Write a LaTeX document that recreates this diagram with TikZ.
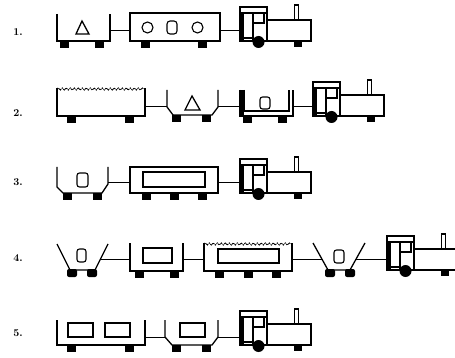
\documentclass[tikz,border=0pt]{standalone}
\usetikzlibrary{decorations.pathmorphing}
\tikzset{
  ln/.style={line width=1.3pt, line join=miter},
  thin ln/.style={line width=1.1pt},
  coupler/.style={line width=1pt},
  wave/.style={line width=0.9pt, decorate, decoration={snake, amplitude=1.1pt, segment length=4pt}, dash pattern=on 1.5pt off 0.8pt},
  lbl/.style={font=\bfseries\fontsize{10.5}{10.5}\selectfont, inner sep=0pt},
  engine/.pic={
    \draw[ln] (0,0) rectangle (27,-34);
    \draw[ln] (0,-28) -- (27,-28);
    \fill (0,0) rectangle (4,-28);
    \draw[thin ln] (13,0) -- (13,-28);
    \draw[thin ln] (13,-18) -- (24,-18) -- (24,-28);
    \draw[thin ln] (4,-3) -- (13,-3);
    \draw[ln] (27,0) rectangle (71,-21);
    \draw[thin ln] (54.5,-21) rectangle (58.5,-36);
    \fill (18.5,1) circle (6);
    \fill (54,0) rectangle (62,6);
  }
}
\newcommand\trainwheel[2]{\fill (#1,#2) rectangle ++(9,7);}
\newcommand\roundwheel[2]{\fill[rounded corners=2pt] (#1,#2) rectangle ++(10,8);}
\begin{document}
\begin{tikzpicture}[x=1pt,y=-1pt]
\useasboundingbox (0,0) rectangle (455,358);
\fill[white] (0,0) rectangle (455,358);

% labels
\node[lbl] (l1) at (18,32) {1.};
\node[lbl] (l2) at (18,113) {2.};
\node[lbl] (l3) at (18,182) {3.};
\node[lbl] (l4) at (18,258) {4.};
\node[lbl] (l5) at (18,333) {5.};

% ---------- Row 1 ----------
\draw[ln] (57,14) -- (57,41) -- (110,41) -- (110,14);
\draw[ln] (82,21) -- (76,34) -- (89,34) -- cycle;
\trainwheel{60}{41}\trainwheel{95}{41}
\coordinate (r1a) at (110,31); \coordinate (r1b) at (130,31);
\draw[coupler] (r1a) -- (r1b);
\draw[ln] (130,13) rectangle (220,41);
\draw[thin ln] (147.5,27.5) circle (5.5);
\draw[thin ln, rounded corners=3pt] (167,21) rectangle (177,34);
\draw[thin ln] (197.5,27.5) circle (5.5);
\trainwheel{141}{41}\trainwheel{198}{41}
\coordinate (r1c) at (220,31); \coordinate (r1d) at (240,31);
\draw[coupler] (r1c) -- (r1d);
\pic at (240,41) {engine};

% ---------- Row 2 ----------
\draw[ln] (57,88) -- (57,116) -- (145,116) -- (145,88);
\draw[wave] (57,89) -- (145,89);
\trainwheel{67}{116}\trainwheel{125}{116}
\coordinate (r2a) at (145,107); \coordinate (r2b) at (167,107);
\draw[coupler] (r2a) -- (r2b);
\draw[ln] (167,90) -- (167,107) -- (173,115) -- (212,115) -- (218,107) -- (218,90);
\draw[ln] (192,96) -- (185,110) -- (200,110) -- cycle;
\trainwheel{172}{115}\trainwheel{202}{115}
\coordinate (r2c) at (218,107); \coordinate (r2d) at (240,107);
\draw[coupler] (r2c) -- (r2d);
\draw[ln] (240,90) -- (240,116) -- (293,116) -- (293,90);
\draw[thin ln] (244,90) -- (244,111) -- (289,111) -- (289,90);
\fill (240,90) rectangle (244,116);
\draw[thin ln, rounded corners=2.5pt] (260,97) rectangle (270,109);
\trainwheel{243}{116}\trainwheel{278}{116}
\coordinate (r2e) at (293,107); \coordinate (r2f) at (313,107);
\draw[coupler] (r2e) -- (r2f);
\pic at (313,116) {engine};

% ---------- Row 3 ----------
\draw[ln] (57,167) -- (57,187) -- (63,193) -- (102,193) -- (108,184) -- (108,167);
\draw[thin ln, rounded corners=2.5pt] (77,173) rectangle (88,187);
\trainwheel{63}{193}\trainwheel{93}{193}
\coordinate (r3a) at (108,183); \coordinate (r3b) at (130,183);
\draw[coupler] (r3a) -- (r3b);
\draw[ln] (130,167) rectangle (218,193);
\draw[ln] (143,172) rectangle (205,187);
\trainwheel{142}{193}\trainwheel{170}{193}\trainwheel{198}{193}
\coordinate (r3c) at (218,183); \coordinate (r3d) at (240,183);
\draw[coupler] (r3c) -- (r3d);
\pic at (240,193) {engine};

% ---------- Row 4 ----------
\draw[ln] (57,244) -- (70,270) -- (95,270) -- (108,244);
\draw[thin ln, rounded corners=2.5pt] (77,249) rectangle (86,262);
\roundwheel{67}{269}\roundwheel{87}{269}
\coordinate (r4a) at (100.5,259); \coordinate (r4b) at (130,259);
\draw[coupler] (r4a) -- (r4b);
\draw[ln] (130,243) -- (130,271) -- (183,271) -- (183,243);
\draw[ln] (143,248) rectangle (172,263);
\trainwheel{135}{271}\trainwheel{170}{271}
\coordinate (r4c) at (183,259); \coordinate (r4d) at (204,259);
\draw[coupler] (r4c) -- (r4d);
\draw[ln] (204,243) -- (204,271) -- (292,271) -- (292,243);
\draw[wave] (204,244) -- (292,244);
\draw[ln] (218,249) rectangle (279,263);
\trainwheel{215}{271}\trainwheel{244}{271}\trainwheel{272}{271}
\coordinate (r4e) at (292,259); \coordinate (r4f) at (321.9,259);
\draw[coupler] (r4e) -- (r4f);
\draw[ln] (313,243) -- (328,270) -- (350,270) -- (365,243);
\draw[thin ln, rounded corners=2.5pt] (334,250) rectangle (344,263);
\roundwheel{325}{269}\roundwheel{345}{269}
\coordinate (r4g) at (356.1,259); \coordinate (r4h) at (387,259);
\draw[coupler] (r4g) -- (r4h);
\pic at (387,270) {engine};

% ---------- Row 5 ----------
\draw[ln] (57,320) -- (57,345) -- (145,345) -- (145,320);
\draw[ln] (68,323) rectangle (93,337);
\draw[ln] (105,323) rectangle (130,337);
\trainwheel{67}{345}\trainwheel{125}{345}
\coordinate (r5a) at (145,337); \coordinate (r5b) at (165,337);
\draw[coupler] (r5a) -- (r5b);
\draw[ln] (165,320) -- (165,337) -- (172,345) -- (212,345) -- (218,337) -- (218,320);
\draw[ln] (180,323) rectangle (205,337);
\trainwheel{172}{345}\trainwheel{202}{345}
\coordinate (r5c) at (218,337); \coordinate (r5d) at (240,337);
\draw[coupler] (r5c) -- (r5d);
\pic at (240,345) {engine};
\end{tikzpicture}
\end{document}
